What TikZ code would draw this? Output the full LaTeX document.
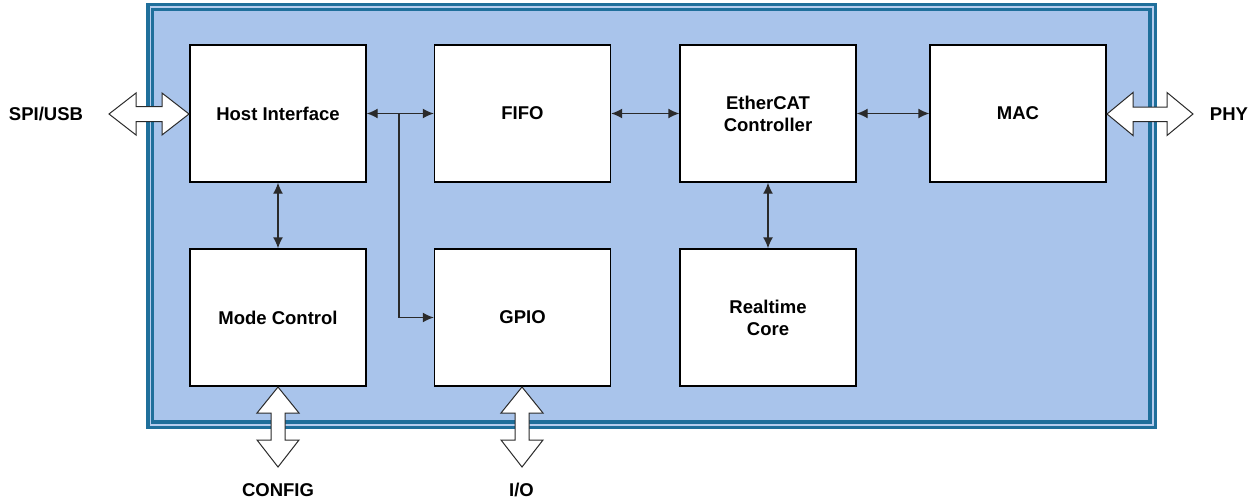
\documentclass[tikz,border=0pt]{standalone}
\usepackage{fontspec}
\setmainfont{Liberation Sans}
\usetikzlibrary{arrows.meta,calc}
\definecolor{frameteal}{HTML}{1F6F9B}
\definecolor{fillblue}{HTML}{A9C4EB}
\definecolor{linegray}{HTML}{2A2A2A}
\tikzset{
  blockbox/.style={draw=black, line width=1.4pt, fill=white, minimum width=176pt, minimum height=137pt, inner sep=0pt, align=center, font=\fontsize{18.5}{22}\selectfont\bfseries},
  lbl/.style={font=\fontsize{18.5}{22}\selectfont\bfseries, inner sep=0pt, text=black},
  conn/.style={draw=linegray, line width=1.4pt, {Latex[length=11pt,width=10pt]}-{Latex[length=11pt,width=10pt]}},
  conn1/.style={draw=linegray, line width=1.4pt, -{Latex[length=11pt,width=10pt]}},
  bigarrow/.style={draw=linegray, line width=1pt, fill=white, line join=miter}
}
\begin{document}
\begin{tikzpicture}[x=1pt,y=-1pt]
\useasboundingbox (0,0) rectangle (1258,503);
% frame
\fill[frameteal] (146,3) rectangle (1157,429);
\fill[fillblue!85!white] (149.5,6.5) rectangle (1153.5,425.5);
\fill[frameteal] (151,8) rectangle (1152,424);
\fill[fillblue] (154,11) rectangle (1148,420);
% boxes
\node[blockbox] (host) at (278,113.5) {Host Interface};
\node[blockbox] (fifo) at (522.5,113.5) {FIFO};
\node[blockbox] (ecat) at (768,113.5) {EtherCAT\\Controller};
\node[blockbox] (mac) at (1018,113.5) {MAC};
\node[blockbox] (mode) at (278,317.5) {Mode Control};
\node[blockbox] (gpio) at (522.5,317.5) {GPIO};
\node[blockbox] (rt) at (768,317.5) {Realtime\\Core};
% connectors
\draw[conn] (host.east) -- (fifo.west);
\coordinate (j) at (399,113.5);
\draw[conn1] (j) |- (gpio.west);
\draw[conn] (fifo.east) -- (ecat.west);
\draw[conn] (ecat.east) -- (mac.west);
\draw[conn] (host.south) -- (mode.north);
\draw[conn] (ecat.south) -- (rt.north);
% big double arrows
\draw[bigarrow] (109,114) -- (136,93) -- (136,106.5) -- (162,106.5) -- (162,93) -- (189,114) -- (162,135) -- (162,121.5) -- (136,121.5) -- (136,135) -- cycle;
\draw[bigarrow] (1107,114) -- (1133,92.5) -- (1133,107) -- (1167,107) -- (1167,92.5) -- (1193,114) -- (1167,135.5) -- (1167,121.5) -- (1133,121.5) -- (1133,135.5) -- cycle;
\draw[bigarrow] (278,387) -- (299,413) -- (285,413) -- (285,440) -- (299,440) -- (278,467) -- (257,440) -- (271,440) -- (271,413) -- (257,413) -- cycle;
\draw[bigarrow] (522,387) -- (543,413) -- (529,413) -- (529,440) -- (543,440) -- (522,467) -- (501,440) -- (515,440) -- (515,413) -- (501,413) -- cycle;
% labels
\node[lbl] (spi) at (46,114) {SPI/USB};
\node[lbl] (phy) at (1229,114) {PHY};
\node[lbl] (cfg) at (278,490) {CONFIG};
\node[lbl] (io) at (521.5,490) {I/O};
\end{tikzpicture}
\end{document}
